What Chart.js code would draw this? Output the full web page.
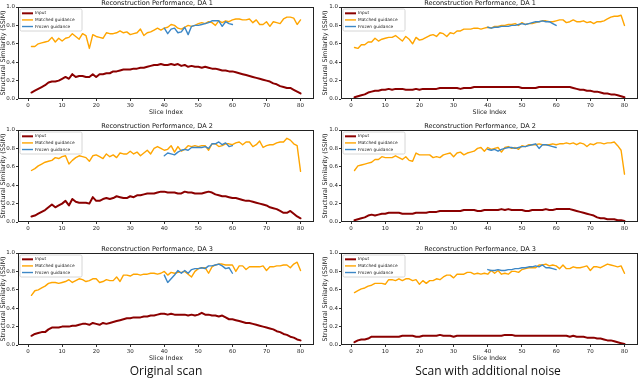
<!DOCTYPE html>
<html>
<head>
<meta charset="utf-8">
<script src="https://cdn.jsdelivr.net/npm/chart.js@4.4.1/dist/chart.umd.min.js"></script>
<style>
  html, body { margin: 0; padding: 0; background: #fff; }
  #page { position: relative; width: 640px; height: 381px; overflow: hidden; }
  canvas { position: absolute; }
  .cap { position: absolute; top: 362px; font-family: "Open Sans"; font-size: 12px; color: #111;
         white-space: nowrap; transform: translateX(-50%); }
</style>
</head>
<body>
<div id="page">
  <canvas id="c0" width="318" height="120" style="left:0;top:0"></canvas>
  <canvas id="c1" width="318" height="120" style="left:322px;top:0"></canvas>
  <canvas id="c2" width="318" height="120" style="left:0;top:123px"></canvas>
  <canvas id="c3" width="318" height="120" style="left:322px;top:123px"></canvas>
  <canvas id="c4" width="318" height="120" style="left:0;top:246px"></canvas>
  <canvas id="c5" width="318" height="120" style="left:322px;top:246px"></canvas>
  <div class="cap" style="left:166px">Original scan</div>
  <div class="cap" style="left:488px">Scan with additional noise</div>
</div>
<script>
// slice indices and tick labels
const sliceIndex = [1,2,3,4,5,6,7,8,9,10,11,12,13,14,15,16,17,18,19,20,
  21,22,23,24,25,26,27,28,29,30,31,32,33,34,35,36,37,38,39,40,
  41,42,43,44,45,46,47,48,49,50,51,52,53,54,55,56,57,58,59,60,
  61,62,63,64,65,66,67,68,69,70,71,72,73,74,75,76,77,78,79,80];
const frozenSlices = [40,41,42,43,44,45,46,47,48,49,50,51,52,53,54,55,56,57,58,59,60];
const xTicks = [0, 10, 20, 30, 40, 50, 60, 70, 80];
const yTicks = [0, 0.2, 0.4, 0.6, 0.8, 1.0];

// original scan
const inputOrig1 = [0.07,0.09,0.11,0.13,0.15,0.18,0.19,0.19,0.20,0.22,0.24,0.22,0.27,0.24,0.25,0.25,0.24,0.24,0.27,0.24,
  0.27,0.27,0.28,0.28,0.30,0.30,0.31,0.32,0.32,0.32,0.33,0.33,0.34,0.34,0.35,0.36,0.37,0.37,0.38,0.37,
  0.37,0.38,0.37,0.38,0.36,0.37,0.35,0.36,0.35,0.35,0.34,0.35,0.34,0.33,0.33,0.32,0.31,0.31,0.30,0.30,
  0.29,0.28,0.27,0.26,0.25,0.24,0.23,0.22,0.21,0.20,0.19,0.17,0.16,0.14,0.13,0.12,0.12,0.10,0.08,0.06];
const matchedOrig1 = [0.57,0.57,0.60,0.61,0.62,0.63,0.67,0.62,0.66,0.63,0.66,0.67,0.71,0.68,0.65,0.71,0.69,0.55,0.70,0.68,
  0.67,0.66,0.72,0.71,0.71,0.72,0.74,0.72,0.73,0.70,0.71,0.72,0.76,0.69,0.72,0.73,0.75,0.77,0.75,0.77,
  0.78,0.81,0.80,0.77,0.76,0.78,0.80,0.79,0.80,0.82,0.83,0.82,0.84,0.83,0.80,0.85,0.83,0.85,0.84,0.86,
  0.87,0.87,0.86,0.86,0.87,0.83,0.86,0.81,0.81,0.84,0.79,0.84,0.83,0.82,0.87,0.89,0.89,0.88,0.81,0.86];
const frozenOrig1 = [0.77,0.71,0.76,0.77,0.72,0.73,0.78,0.70,0.79,0.80,0.80,0.81,0.82,0.83,0.85,0.85,0.85,0.79,0.84,0.82,0.81];

const inputOrig2 = [0.06,0.07,0.09,0.11,0.13,0.16,0.19,0.16,0.18,0.20,0.23,0.18,0.25,0.22,0.21,0.21,0.21,0.20,0.27,0.23,
  0.23,0.25,0.26,0.25,0.26,0.28,0.27,0.26,0.26,0.28,0.27,0.29,0.29,0.30,0.31,0.31,0.31,0.32,0.33,0.33,
  0.32,0.32,0.32,0.31,0.31,0.33,0.32,0.32,0.31,0.31,0.31,0.32,0.33,0.32,0.30,0.29,0.28,0.28,0.27,0.26,
  0.26,0.25,0.24,0.23,0.23,0.22,0.21,0.20,0.19,0.18,0.16,0.15,0.14,0.12,0.10,0.10,0.12,0.09,0.06,0.04];
const matchedOrig2 = [0.56,0.58,0.61,0.63,0.65,0.66,0.67,0.70,0.69,0.71,0.72,0.63,0.67,0.70,0.72,0.71,0.70,0.66,0.72,0.73,
  0.71,0.69,0.74,0.71,0.73,0.70,0.75,0.74,0.74,0.77,0.74,0.76,0.72,0.75,0.78,0.74,0.80,0.82,0.80,0.78,
  0.79,0.83,0.76,0.82,0.77,0.79,0.83,0.82,0.83,0.82,0.83,0.83,0.78,0.85,0.85,0.82,0.83,0.85,0.85,0.84,
  0.86,0.87,0.84,0.87,0.87,0.82,0.84,0.88,0.81,0.83,0.84,0.84,0.86,0.87,0.87,0.91,0.89,0.85,0.83,0.55];
const frozenOrig2 = [0.72,0.75,0.74,0.73,0.76,0.78,0.79,0.78,0.81,0.81,0.81,0.81,0.82,0.80,0.85,0.85,0.87,0.84,0.86,0.82,0.83];

const inputOrig3 = [0.10,0.12,0.13,0.14,0.14,0.17,0.19,0.19,0.19,0.20,0.20,0.20,0.21,0.21,0.22,0.23,0.23,0.22,0.24,0.23,
  0.22,0.24,0.23,0.24,0.25,0.26,0.27,0.28,0.29,0.29,0.30,0.30,0.30,0.31,0.31,0.32,0.32,0.33,0.34,0.34,
  0.33,0.34,0.33,0.33,0.33,0.33,0.32,0.33,0.32,0.33,0.35,0.33,0.33,0.32,0.32,0.31,0.32,0.30,0.28,0.28,
  0.27,0.26,0.25,0.24,0.24,0.23,0.22,0.21,0.20,0.19,0.18,0.17,0.15,0.14,0.12,0.11,0.09,0.08,0.06,0.05];
const matchedOrig3 = [0.54,0.59,0.60,0.62,0.64,0.67,0.68,0.68,0.67,0.68,0.69,0.71,0.68,0.70,0.72,0.71,0.69,0.70,0.72,0.72,
  0.68,0.69,0.71,0.70,0.70,0.74,0.69,0.76,0.76,0.75,0.77,0.77,0.76,0.77,0.77,0.78,0.78,0.77,0.78,0.80,
  0.76,0.79,0.78,0.79,0.79,0.80,0.77,0.74,0.80,0.83,0.84,0.84,0.78,0.85,0.87,0.88,0.88,0.87,0.87,0.87,
  0.80,0.86,0.86,0.82,0.85,0.85,0.85,0.85,0.86,0.81,0.85,0.85,0.86,0.86,0.87,0.87,0.84,0.88,0.90,0.81];
const frozenOrig3 = [0.76,0.68,0.72,0.76,0.81,0.78,0.81,0.78,0.82,0.83,0.83,0.84,0.83,0.86,0.86,0.87,0.88,0.86,0.83,0.84,0.78];

// scan with additional noise
const inputNoise1 = [0.02,0.03,0.04,0.05,0.07,0.08,0.09,0.09,0.10,0.10,0.11,0.10,0.11,0.11,0.11,0.10,0.10,0.10,0.11,0.10,
  0.11,0.11,0.11,0.11,0.11,0.12,0.12,0.12,0.12,0.12,0.12,0.11,0.12,0.12,0.12,0.13,0.13,0.13,0.13,0.13,
  0.13,0.13,0.13,0.13,0.13,0.13,0.13,0.13,0.13,0.12,0.12,0.12,0.12,0.12,0.13,0.13,0.13,0.13,0.13,0.13,
  0.13,0.13,0.13,0.13,0.12,0.11,0.10,0.10,0.09,0.09,0.08,0.08,0.07,0.06,0.06,0.05,0.05,0.04,0.03,0.02];
const matchedNoise1 = [0.56,0.55,0.59,0.59,0.62,0.62,0.66,0.63,0.65,0.66,0.67,0.67,0.69,0.66,0.63,0.68,0.65,0.60,0.67,0.64,
  0.65,0.67,0.69,0.70,0.68,0.72,0.71,0.68,0.72,0.71,0.74,0.74,0.76,0.76,0.76,0.77,0.77,0.76,0.77,0.78,
  0.77,0.79,0.79,0.80,0.80,0.81,0.81,0.82,0.80,0.83,0.81,0.82,0.82,0.83,0.84,0.85,0.85,0.84,0.84,0.85,
  0.86,0.86,0.83,0.84,0.86,0.84,0.84,0.85,0.83,0.84,0.82,0.84,0.84,0.85,0.87,0.89,0.90,0.90,0.91,0.80];
const frozenNoise1 = [0.78,0.77,0.78,0.78,0.79,0.79,0.79,0.80,0.80,0.81,0.82,0.81,0.82,0.83,0.84,0.84,0.85,0.84,0.84,0.82,0.80];

const inputNoise2 = [0.02,0.03,0.04,0.05,0.07,0.08,0.07,0.08,0.09,0.09,0.10,0.10,0.10,0.10,0.09,0.09,0.09,0.09,0.10,0.10,
  0.10,0.10,0.11,0.11,0.11,0.12,0.12,0.12,0.12,0.12,0.12,0.12,0.13,0.13,0.13,0.13,0.12,0.12,0.13,0.13,
  0.13,0.13,0.13,0.14,0.13,0.14,0.13,0.13,0.13,0.13,0.12,0.12,0.13,0.13,0.13,0.13,0.14,0.13,0.13,0.14,
  0.14,0.14,0.14,0.14,0.13,0.12,0.11,0.10,0.09,0.08,0.07,0.05,0.04,0.04,0.03,0.03,0.03,0.02,0.02,0.01];
const matchedNoise2 = [0.56,0.61,0.62,0.63,0.64,0.65,0.68,0.68,0.71,0.70,0.70,0.70,0.72,0.70,0.68,0.71,0.67,0.66,0.75,0.73,
  0.73,0.73,0.73,0.70,0.71,0.70,0.73,0.74,0.75,0.71,0.75,0.76,0.73,0.75,0.76,0.77,0.80,0.81,0.77,0.81,
  0.79,0.80,0.81,0.76,0.81,0.82,0.80,0.81,0.79,0.83,0.82,0.84,0.84,0.84,0.85,0.84,0.84,0.84,0.85,0.84,
  0.85,0.85,0.86,0.85,0.86,0.84,0.86,0.85,0.82,0.85,0.84,0.86,0.86,0.85,0.86,0.86,0.87,0.83,0.78,0.52];
const frozenNoise2 = [0.79,0.78,0.79,0.77,0.79,0.80,0.81,0.81,0.80,0.81,0.82,0.82,0.83,0.84,0.85,0.80,0.84,0.84,0.83,0.82,0.81];

const inputNoise3 = [0.03,0.05,0.06,0.06,0.07,0.09,0.09,0.09,0.09,0.09,0.09,0.09,0.09,0.09,0.10,0.10,0.10,0.10,0.09,0.09,
  0.10,0.10,0.10,0.10,0.10,0.11,0.10,0.10,0.10,0.09,0.10,0.10,0.10,0.10,0.10,0.10,0.10,0.10,0.10,0.10,
  0.10,0.10,0.10,0.10,0.11,0.11,0.11,0.10,0.10,0.10,0.10,0.10,0.10,0.10,0.10,0.10,0.10,0.10,0.10,0.10,
  0.10,0.10,0.10,0.09,0.10,0.09,0.09,0.09,0.08,0.08,0.08,0.07,0.07,0.06,0.05,0.05,0.04,0.03,0.02,0.01];
const matchedNoise3 = [0.57,0.59,0.61,0.62,0.64,0.65,0.67,0.67,0.67,0.66,0.71,0.71,0.70,0.72,0.70,0.72,0.72,0.70,0.71,0.66,
  0.70,0.67,0.70,0.70,0.72,0.71,0.74,0.76,0.76,0.73,0.77,0.77,0.77,0.79,0.79,0.77,0.78,0.77,0.78,0.77,
  0.81,0.78,0.81,0.77,0.78,0.77,0.80,0.80,0.79,0.82,0.83,0.84,0.84,0.84,0.87,0.87,0.88,0.86,0.87,0.86,
  0.83,0.87,0.83,0.83,0.85,0.84,0.84,0.85,0.86,0.81,0.85,0.85,0.84,0.86,0.88,0.87,0.86,0.85,0.86,0.78];
const frozenNoise3 = [0.82,0.81,0.81,0.82,0.81,0.81,0.82,0.82,0.83,0.83,0.84,0.84,0.85,0.85,0.86,0.85,0.87,0.84,0.84,0.83,0.82];

const FONT = '"DejaVu Sans"';
const DARKRED = '#8b0000';
const ORANGE = '#ffa500';
const BLUE = '#3c87c6';

// box round the axes, like matplotlib spines
const framePlugin = {
  id: 'frame',
  afterDatasetsDraw(chart) {
    const a = chart.chartArea, ctx = chart.ctx;
    ctx.save();
    ctx.strokeStyle = '#222';
    ctx.lineWidth = 1;
    ctx.strokeRect(Math.round(a.left) + 0.5, Math.round(a.top) + 0.5,
      Math.round(a.right - a.left) - 1, Math.round(a.bottom - a.top) - 1);
    ctx.restore();
  }
};

// small legend box in the upper left corner
const legendPlugin = {
  id: 'boxLegend',
  afterDraw(chart) {
    const a = chart.chartArea, ctx = chart.ctx;
    const x = a.left + 2, y = a.top + 2, w = 62, h = 22;
    ctx.save();
    ctx.fillStyle = 'rgba(255,255,255,0.85)';
    ctx.strokeStyle = '#cccccc';
    ctx.lineWidth = 0.8;
    ctx.beginPath();
    ctx.roundRect(x, y, w, h, 1.5);
    ctx.fill();
    ctx.stroke();
    ctx.font = '4.3px ' + FONT;
    ctx.textBaseline = 'middle';
    chart.data.datasets.forEach((ds, i) => {
      const ly = y + 4.3 + i * 6.6;
      ctx.strokeStyle = ds.borderColor;
      ctx.lineWidth = ds.borderWidth;
      ctx.beginPath();
      ctx.moveTo(x + 2, ly);
      ctx.lineTo(x + 13, ly);
      ctx.stroke();
      ctx.fillStyle = '#222';
      ctx.fillText(ds.label, x + 15, ly);
    });
    ctx.restore();
  }
};

function pts(xs, ys) {
  return xs.map((x, i) => ({ x: x, y: ys[i] }));
}

function makeChart(id, title, input, matched, frozen, col, showXLabel) {
  new Chart(document.getElementById(id), {
    type: 'line',
    data: {
      datasets: [
        { label: 'Input', data: pts(sliceIndex, input), borderColor: DARKRED, borderWidth: 2, order: 2 },
        { label: 'Matched guidance', data: pts(sliceIndex, matched), borderColor: ORANGE, borderWidth: 1.4, order: 1 },
        { label: 'Frozen guidance', data: pts(frozenSlices, frozen), borderColor: BLUE, borderWidth: 1.4, order: 0 }
      ]
    },
    options: {
      responsive: false,
      animation: false,
      devicePixelRatio: 1,
      layout: { padding: { left: 0, right: col ? 2 : 4, top: 0, bottom: 0 } },
      elements: {
        point: { radius: 0 },
        line: { tension: 0, borderJoinStyle: 'round', borderCapStyle: 'round' }
      },
      plugins: {
        legend: { display: false },
        tooltip: { enabled: false },
        title: {
          display: true, text: title, color: '#111', padding: 0,
          font: { family: FONT, size: 6.5, weight: 'normal', lineHeight: 1.08 }
        }
      },
      scales: {
        x: {
          type: 'linear', min: -2.95, max: 83.95,
          afterBuildTicks: s => { s.ticks = xTicks.map(v => ({ value: v })); },
          afterFit: s => { s.height = 21; },
          ticks: { font: { family: FONT, size: 5.5 }, color: '#222', padding: 1, maxRotation: 0, autoSkip: false },
          grid: { drawOnChartArea: false, tickLength: 2, color: '#333' },
          border: { display: false },
          title: {
            display: showXLabel, text: 'Slice Index', color: '#222',
            font: { family: FONT, size: 6.3 }, padding: { top: 0, bottom: 4 }
          }
        },
        y: {
          min: 0, max: 1,
          afterBuildTicks: s => { s.ticks = yTicks.map(v => ({ value: v })); },
          afterFit: s => { s.width = col ? 19 : 18; },
          ticks: {
            font: { family: FONT, size: 5.5 }, color: '#222', padding: 1, autoSkip: false,
            callback: v => v.toFixed(1)
          },
          grid: { drawOnChartArea: false, tickLength: 2, color: '#333' },
          border: { display: false },
          title: {
            display: true, text: 'Structural Similarity (SSIM)', color: '#222',
            font: { family: FONT, size: 6.3 }, padding: 0
          }
        }
      }
    },
    plugins: [framePlugin, legendPlugin]
  });
}

makeChart('c0', 'Reconstruction Performance, DA 1', inputOrig1, matchedOrig1, frozenOrig1, 0, true);
makeChart('c1', 'Reconstruction Performance, DA 1', inputNoise1, matchedNoise1, frozenNoise1, 1, true);
makeChart('c2', 'Reconstruction Performance, DA 2', inputOrig2, matchedOrig2, frozenOrig2, 0, false);
makeChart('c3', 'Reconstruction Performance, DA 2', inputNoise2, matchedNoise2, frozenNoise2, 1, false);
makeChart('c4', 'Reconstruction Performance, DA 3', inputOrig3, matchedOrig3, frozenOrig3, 0, true);
makeChart('c5', 'Reconstruction Performance, DA 3', inputNoise3, matchedNoise3, frozenNoise3, 1, true);
</script>
</body>
</html>
